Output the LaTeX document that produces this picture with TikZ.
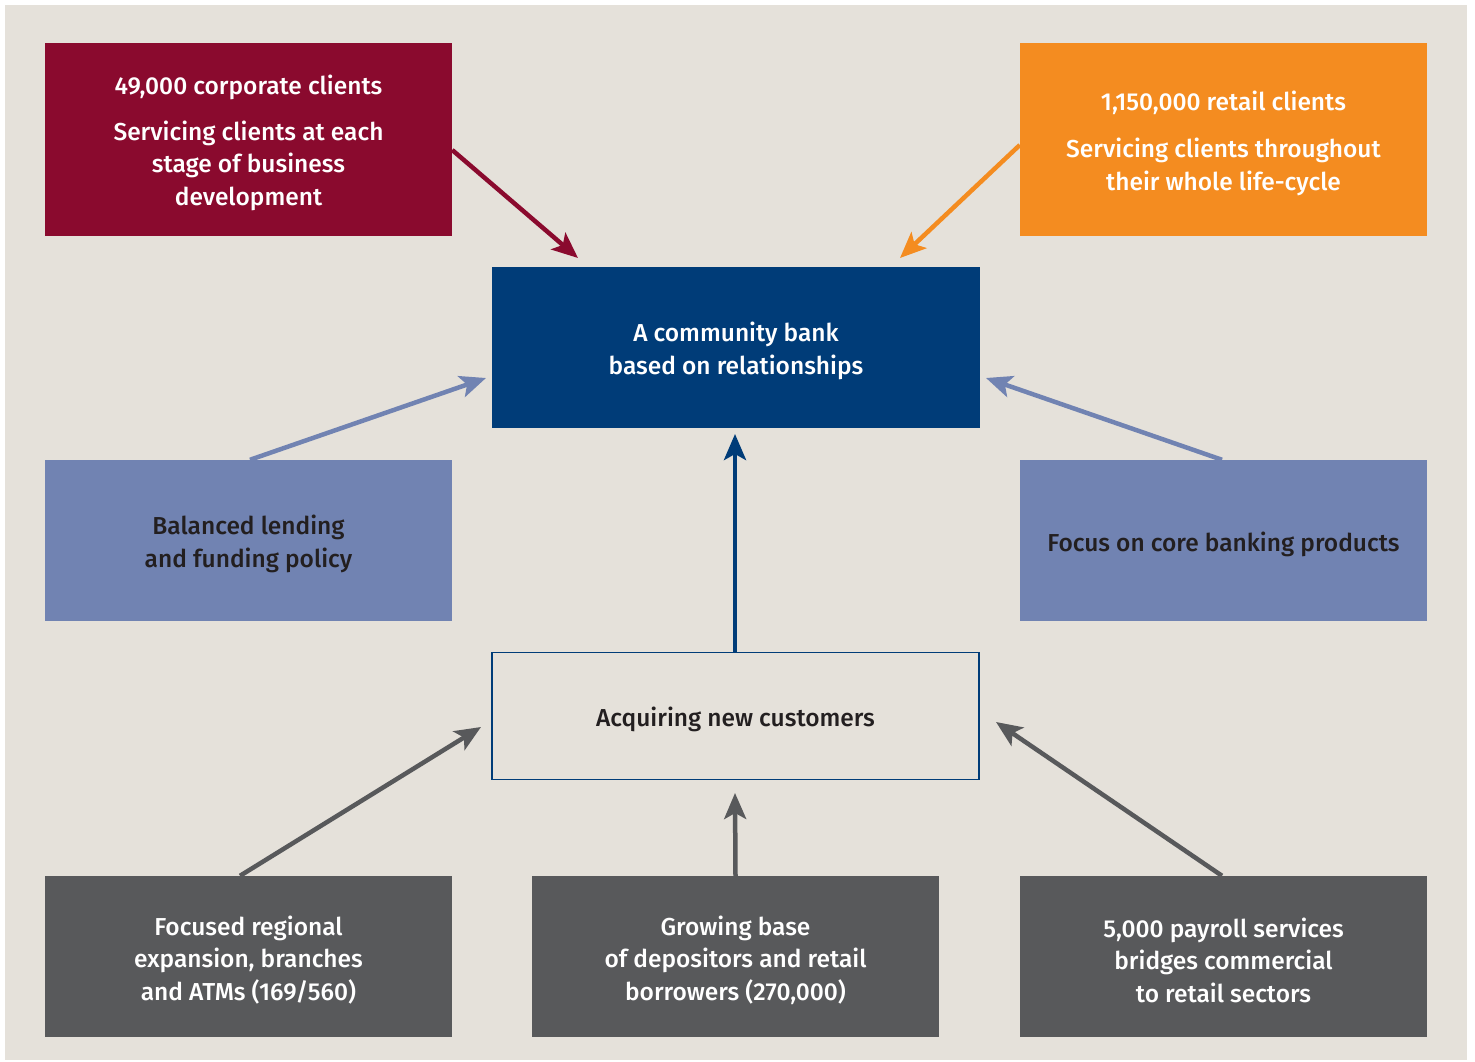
\documentclass[tikz,border=0pt]{standalone}
\usepackage{fontspec}
\setmainfont{Fira Sans}[UprightFont=* Medium]
\usetikzlibrary{arrows.meta}
\definecolor{bg}{HTML}{E5E1DA}
\definecolor{corpred}{HTML}{8A0A2E}
\definecolor{retailor}{HTML}{F48C20}
\definecolor{navy}{HTML}{003C78}
\definecolor{peri}{HTML}{7183B2}
\definecolor{slate}{HTML}{58595B}
\definecolor{ink}{HTML}{231F20}
\begin{document}
\begin{tikzpicture}[x=1pt,y=-1pt,
  box/.style={draw=none, minimum width=407pt, minimum height=161pt, inner sep=0pt},
  wide/.style={minimum width=488pt},
  txt/.style={inner sep=0pt, align=center, font=\fontsize{24.5}{32.5}\selectfont, yshift=-3.5pt},
  arr/.style={line width=4.5pt, -{Stealth[length=26pt,width=22pt,inset=6pt]}}]
\useasboundingbox (0,0) rectangle (1475,1062);
\fill[white] (0,0) rectangle (1475,1062);
\fill[bg] (5,5) rectangle (1467,1060);
% boxes
\node[box, fill=corpred, minimum height=193pt] (corp) at (248.5,139.5) {};
\node[box, fill=retailor, minimum height=193pt] (retail) at (1223.5,139.5) {};
\node[box, wide, fill=navy] (bank) at (736,347.5) {};
\node[box, fill=peri] (lend) at (248.5,540.5) {};
\node[box, fill=peri] (core) at (1223.5,540.5) {};
\node[box, fill=bg, draw=navy, line width=1.2pt, minimum width=487pt, minimum height=127pt] (acq) at (735.5,716) {};
\node[box, fill=slate] (reg) at (248.5,956.5) {};
\node[box, fill=slate] (dep) at (735.5,956.5) {};
\node[box, fill=slate] (pay) at (1223.5,956.5) {};
% texts
\node[txt, text=white] (corp-t) at (corp.center)
  {49,000 corporate clients\\[13pt]Servicing clients at each\\stage of business\\development};
\node[txt, text=white] (retail-t) at (retail.center)
  {1,150,000 retail clients\\[15pt]Servicing clients throughout\\their whole life-cycle};
\node[txt, text=white] (bank-t) at (bank.center) {A community bank\\based on relationships};
\node[txt, text=ink] (lend-t) at (lend.center) {Balanced lending\\and funding policy};
\node[txt, text=ink] (core-t) at (core.center) {Focus on core banking products};
\node[txt, text=ink] (acq-t) at (acq.center) {Acquiring new customers};
\node[txt, text=white] (reg-t) at (reg.center) {Focused regional\\expansion, branches\\and ATMs (169/560)};
\node[txt, text=white] (dep-t) at (dep.center) {Growing base\\of depositors and retail\\borrowers (270,000)};
\node[txt, text=white] (pay-t) at (pay.center) {5,000 payroll services\\bridges commercial\\to retail sectors};
% arrow tips
\coordinate (tipcorp) at (578,258);
\coordinate (tipretail) at (900,258);
\coordinate (tiplend) at (486,378);
\coordinate (tipcore) at (986,378);
\coordinate (tipacq) at (735,434);
\coordinate (tipreg) at (481,727);
\coordinate (tipdep) at (735,793);
\coordinate (tippay) at (996,722);
% arrows
\draw[arr, corpred] ([yshift=-10.5pt]corp.east) -- (tipcorp);
\draw[arr, retailor] ([yshift=-5.5pt]retail.west) -- (tipretail);
\draw[arr, peri] ([xshift=1.5pt]lend.north) -- (tiplend);
\draw[arr, peri] ([xshift=-1.5pt]core.north) -- (tipcore);
\draw[arr, navy] ([xshift=-0.5pt]acq.north) -- (tipacq);
\draw[arr, slate] ([xshift=-8.5pt]reg.north) -- (tipreg);
\draw[arr, slate] (dep.north) -- (tipdep);
\draw[arr, slate] ([xshift=-1.5pt]pay.north) -- (tippay);
\end{tikzpicture}
\end{document}
